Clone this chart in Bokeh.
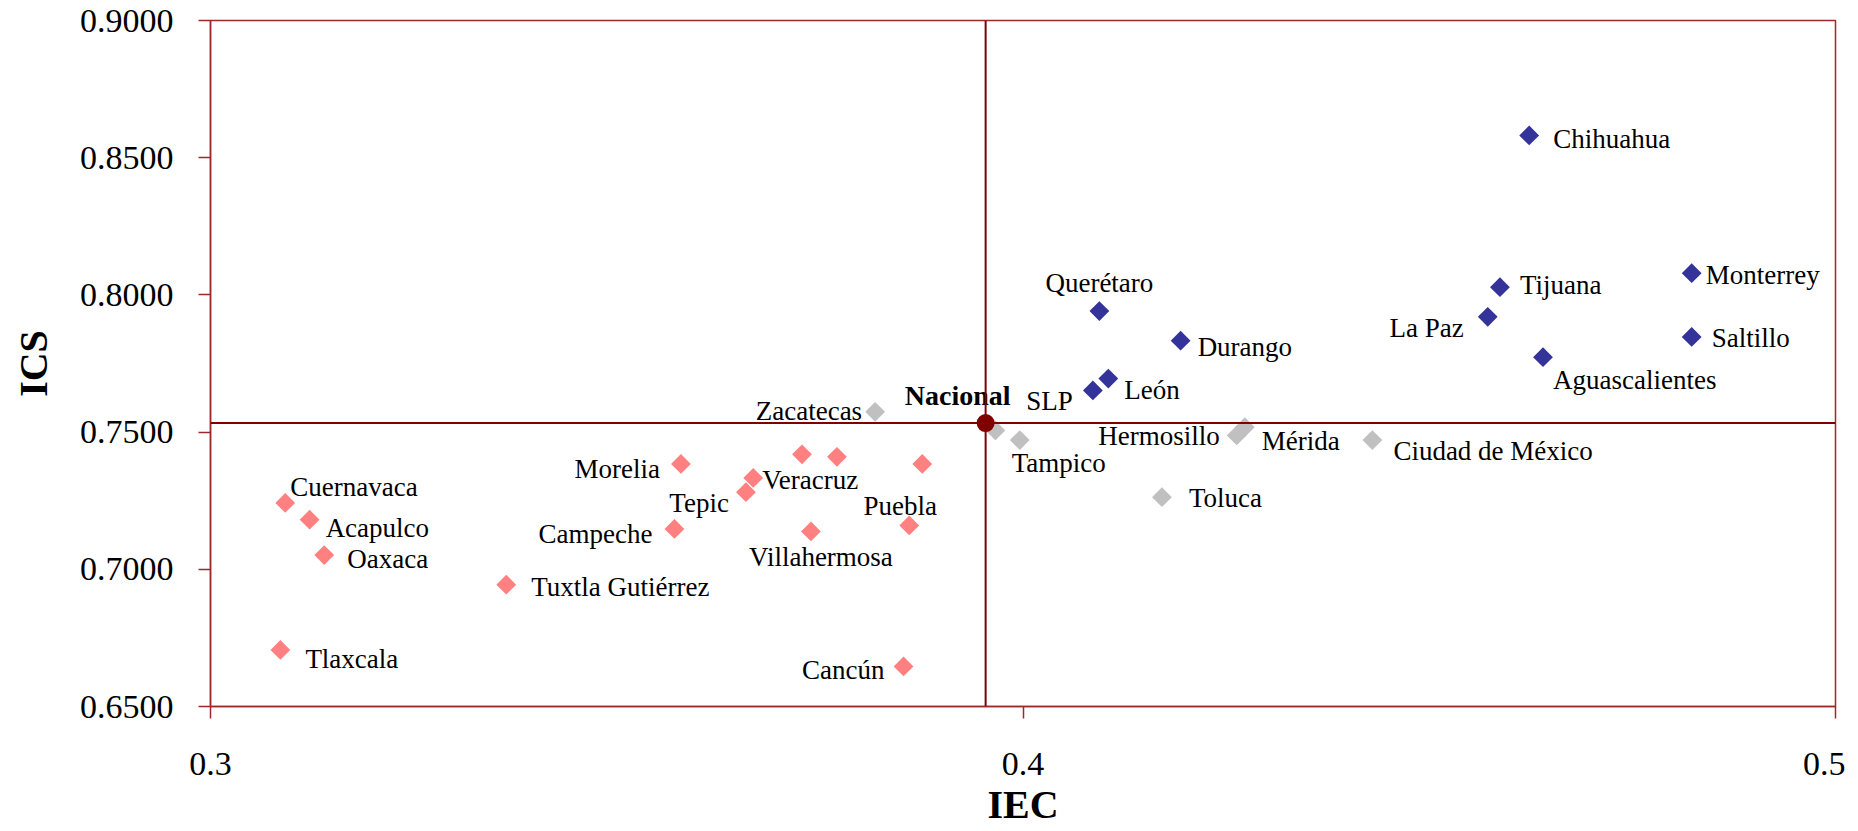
from bokeh.plotting import figure
from bokeh.models import ColumnDataSource, Span, FixedTicker, CustomJSTickFormatter
from bokeh.core.properties import value
from bokeh.embed import file_html
from bokeh.resources import INLINE

# ---------------- data ----------------
blue_names = ["Chihuahua", "Monterrey", "Tijuana", "La Paz", "Saltillo", "Aguascalientes",
              "Querétaro", "Durango", "León", "SLP"]
blue_iec = [0.4623, 0.4823, 0.4587, 0.4572, 0.4823, 0.4640, 0.4094, 0.4194, 0.4105, 0.4086]
blue_ics = [0.8581, 0.8079, 0.8028, 0.7920, 0.7847, 0.7773, 0.7941, 0.7833, 0.7695, 0.7652]

gray_names = ["Zacatecas", "", "Tampico", "Hermosillo", "Mérida", "Ciudad de México", "Toluca"]
gray_iec = [0.3818, 0.3966, 0.3996, 0.4263, 0.4273, 0.4430, 0.4171]
gray_ics = [0.7574, 0.7506, 0.7471, 0.7488, 0.7518, 0.7471, 0.7263]

pink_names = ["Cuernavaca", "Acapulco", "Oaxaca", "Tlaxcala", "Tuxtla Gutiérrez", "Morelia",
              "Campeche", "Tepic", "Veracruz", "", "", "Villahermosa", "", "Puebla", "Cancún"]
pink_iec = [0.3092, 0.3122, 0.3140, 0.3086, 0.3364, 0.3579, 0.3571, 0.3659, 0.3668,
            0.3728, 0.3771, 0.3739, 0.3876, 0.3860, 0.3853]
pink_ics = [0.7242, 0.7181, 0.7052, 0.6706, 0.6944, 0.7384, 0.7147, 0.7281, 0.7333,
            0.7419, 0.7410, 0.7138, 0.7384, 0.7160, 0.6646]

nacional_name = "Nacional"
nacional_iec = 0.3954
nacional_ics = 0.7533

x_ticks = [0.3, 0.4, 0.5]
y_ticks = [0.65, 0.70, 0.75, 0.80, 0.85, 0.90]
x_title = "IEC"
y_title = "ICS"

# ---------------- label layout (align, dx, dy in px, dy positive = down) ----------------
label_layout = {
    "Chihuahua": ("left", 24, 4), "Monterrey": ("left", 14, 2), "Tijuana": ("left", 20, -2),
    "La Paz": ("right", -24, 11), "Saltillo": ("left", 20, 1), "Aguascalientes": ("left", 10, 23),
    "Querétaro": ("center", 0, -28), "Durango": ("left", 17, 6), "León": ("left", 16, 11),
    "SLP": ("right", -20, 11), "Zacatecas": ("right", -13, -1), "Tampico": ("left", -8, 23),
    "Hermosillo": ("right", -17, 1), "Mérida": ("left", 17, 14), "Ciudad de México": ("left", 21, 11),
    "Toluca": ("left", 27, 1), "Cuernavaca": ("left", 5, -16), "Acapulco": ("left", 16, 8),
    "Oaxaca": ("left", 23, 4), "Tlaxcala": ("left", 25, 9), "Tuxtla Gutiérrez": ("left", 25, 2),
    "Morelia": ("right", -21, 5), "Campeche": ("right", -22, 5), "Tepic": ("right", -17, 11),
    "Veracruz": ("left", 9, 2), "Villahermosa": ("center", 10, 26), "Puebla": ("center", -9, -19),
    "Cancún": ("right", -19, 4),
}

FONT = "Liberation Serif"
DARK = "#800000"
FRAME = "#A0282B"

p = figure(frame_width=1625, frame_height=686, x_range=(0.3, 0.5), y_range=(0.65, 0.90),
           output_backend="svg", toolbar_location=None,
           min_border_left=210, min_border_right=10, min_border_top=20, min_border_bottom=0)
p.xgrid.visible = False
p.ygrid.visible = False
p.outline_line_color = FRAME
p.outline_line_width = 1.5
p.background_fill_color = "white"
p.border_fill_color = "white"

for ax in (p.xaxis[0], p.yaxis[0]):
    ax.axis_line_color = FRAME
    ax.axis_line_width = 1.5
    ax.major_tick_line_color = FRAME
    ax.major_tick_line_width = 1.5
    ax.major_tick_out = 12
    ax.major_tick_in = 0
    ax.minor_tick_line_color = None
    ax.major_label_text_font = FONT
    ax.major_label_text_font_size = "34px"
    ax.major_label_text_color = "black"
    ax.axis_label_text_font = FONT
    ax.axis_label_text_font_size = "40px"
    ax.axis_label_text_font_style = "bold"
    ax.axis_label_text_color = "black"

p.xaxis.ticker = FixedTicker(ticks=x_ticks)
p.yaxis.ticker = FixedTicker(ticks=y_ticks)
p.xaxis.formatter = CustomJSTickFormatter(code="return tick.toFixed(1);")
p.yaxis.formatter = CustomJSTickFormatter(code="return tick.toFixed(4);")
p.xaxis.axis_label = x_title
p.yaxis.axis_label = y_title
p.xaxis.major_label_standoff = 34
p.yaxis.major_label_standoff = 25
p.xaxis.axis_label_standoff = 4
p.yaxis.axis_label_standoff = 21

# markers
def src(names, xs, ys):
    return ColumnDataSource(dict(x=xs, y=ys, name=names))

p.scatter("x", "y", source=src(gray_names, gray_iec, gray_ics), marker="square", angle=0.785398,
          size=14, fill_color="#C0C0C0", line_color=None)
p.scatter("x", "y", source=src(pink_names, pink_iec, pink_ics), marker="square", angle=0.785398,
          size=14, fill_color="#FF8080", line_color=None)
p.scatter("x", "y", source=src(blue_names, blue_iec, blue_ics), marker="square", angle=0.785398,
          size=14, fill_color="#333399", line_color=None)

# reference lines through the national value
p.add_layout(Span(location=nacional_iec, dimension="height", line_color=DARK, line_width=2))
p.add_layout(Span(location=nacional_ics, dimension="width", line_color=DARK, line_width=2))

p.scatter([nacional_iec], [nacional_ics], marker="circle", size=18, fill_color=DARK, line_color=None)

# labels
groups = {"left": dict(x=[], y=[], t=[], dx=[], dy=[]),
          "right": dict(x=[], y=[], t=[], dx=[], dy=[]),
          "center": dict(x=[], y=[], t=[], dx=[], dy=[])}
for names, xs, ys in ((blue_names, blue_iec, blue_ics), (gray_names, gray_iec, gray_ics),
                      (pink_names, pink_iec, pink_ics)):
    for n, xv, yv in zip(names, xs, ys):
        if not n:
            continue
        a, dx, dy = label_layout[n]
        g = groups[a]
        g["x"].append(xv); g["y"].append(yv); g["t"].append(n); g["dx"].append(dx); g["dy"].append(dy)

for a, g in groups.items():
    p.text("x", "y", text="t", x_offset="dx", y_offset="dy", source=ColumnDataSource(g),
           text_align=a, text_baseline="middle", text_font=value(FONT),
           text_font_size="27px", text_color="black")

p.text([nacional_iec], [nacional_ics], text=[nacional_name], x_offset=-28, y_offset=-28,
       text_align="center", text_baseline="middle", text_font=value(FONT),
       text_font_size="28px", text_font_style="bold", text_color="black")

open("out.html", "w").write(file_html(p, INLINE))
